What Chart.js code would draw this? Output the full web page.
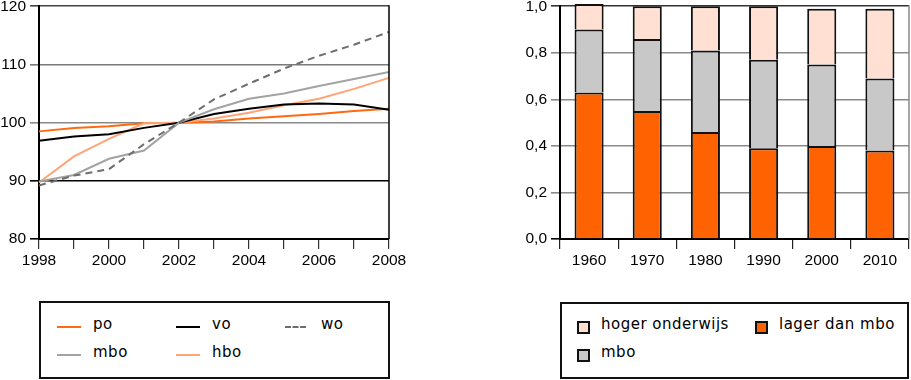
<!DOCTYPE html>
<html>
<head>
<meta charset="utf-8">
<script src="https://cdn.jsdelivr.net/npm/chart.js@4/dist/chart.umd.min.js"></script>
<style>
  html, body { margin:0; padding:0; background:#fff; }
  body { width:911px; height:380px; position:relative; overflow:hidden; font-family:"DejaVu Sans", sans-serif; }
  #c1 { position:absolute; left:0; top:-7px; }
  #c2 { position:absolute; left:520px; top:-7px; }
  .legend { position:absolute; border:2px solid #111; box-sizing:border-box; background:#fff; }
  .item { position:absolute; font-size:15px; letter-spacing:0.5px; color:#000; line-height:18px; }
  .sample { position:absolute; }
</style>
</head>
<body>
<canvas id="c1" width="420" height="277" style="width:420px;height:277px"></canvas>
<canvas id="c2" width="391" height="277" style="width:391px;height:277px"></canvas>
<div id="leg1" class="legend" style="left:39px;top:301px;width:351px;height:78px;"></div>
<div id="leg2" class="legend" style="left:560px;top:302px;width:349px;height:77px;"></div>
<script>
// ---- Data: left chart (index, 2002 = 100) ----
const years = ['1998','1999','2000','2001','2002','2003','2004','2005','2006','2007','2008'];
const po  = [98.5, 99.1, 99.4, 99.9, 100, 100.2, 100.7, 101.1, 101.5, 102.0, 102.4];
const vo  = [96.9, 97.6, 98.0, 99.1, 100, 101.5, 102.4, 103.1, 103.3, 103.1, 102.2];
const wo  = [89.2, 90.9, 92.0, 96.3, 100, 104.0, 106.7, 109.3, 111.5, 113.4, 115.6];
const mbo = [89.9, 91.0, 93.8, 95.2, 100, 102.3, 104.1, 105.0, 106.3, 107.5, 108.7];
const hbo = [89.7, 94.2, 97.2, 99.9, 100, 100.7, 101.7, 103.0, 104.1, 105.8, 107.7];
const lineNames = ['po','vo','wo','mbo','hbo'];
const yTicksLeft = [80, 90, 100, 110, 120];

// ---- Data: right chart (shares) ----
const decades = ['1960','1970','1980','1990','2000','2010'];
const lagerDanMbo   = [0.63, 0.55, 0.46, 0.39, 0.40, 0.38];
const mboShare      = [0.27, 0.31, 0.35, 0.38, 0.35, 0.31];
const hogerOnderwijs= [0.11, 0.14, 0.19, 0.23, 0.24, 0.30];
const barNames = ['hoger onderwijs','lager dan mbo','mbo'];
const yTicksRight = [0, 0.2, 0.4, 0.6, 0.8, 1.0];

Chart.defaults.animation = false;
Chart.defaults.font.family = '"Liberation Sans", Arial, sans-serif';
Chart.defaults.font.size = 15.5;
Chart.defaults.color = '#000';

const rightEdge = (color, width) => ({
  id: 'rightEdge',
  afterDraw(chart) {
    const a = chart.chartArea, ctx = chart.ctx;
    ctx.save();
    ctx.strokeStyle = color; ctx.lineWidth = width;
    ctx.beginPath(); ctx.moveTo(a.right, a.top - 1); ctx.lineTo(a.right, a.bottom); ctx.stroke();
    ctx.restore();
  }
});

// ---- Left line chart ----
const lineStyles = {
  po:  {borderColor:'#ff6a10', borderWidth:2},
  vo:  {borderColor:'#000000', borderWidth:2},
  wo:  {borderColor:'#6e6e6e', borderWidth:2, borderDash:[7,5]},
  mbo: {borderColor:'#a3a3a3', borderWidth:2},
  hbo: {borderColor:'#ffa477', borderWidth:2}
};
const lineData = {po, vo, wo, mbo, hbo};
const drawOrder = ['wo','mbo','vo','hbo','po'];

new Chart(document.getElementById('c1'), {
  type: 'line',
  data: {
    labels: years,
    datasets: drawOrder.map(n => Object.assign({
      label: n, data: lineData[n], pointRadius: 0, tension: 0, fill: false
    }, lineStyles[n]))
  },
  options: {
    responsive: false,
    layout: { padding: { top: 0, right: 31, left: 0, bottom: 0 } },
    plugins: { legend: { display: false }, tooltip: { enabled: false } },
    scales: {
      x: {
        grid: { drawOnChartArea: false, drawTicks: true, tickLength: 10, color: '#333', lineWidth: 1.2 },
        border: { color: '#000', width: 2 },
        ticks: { autoSkip: false, maxRotation: 0, padding: 2,
          callback: function(v, i) { const y = +years[i]; return y % 2 === 0 ? years[i] : ''; } },
        afterFit(s) { s.height = 31; }
      },
      y: {
        min: 80, max: 120,
        afterBuildTicks(s) { s.ticks = yTicksLeft.map(v => ({value: v})); },
        grid: {
          tickLength: 9,
          lineWidth: 1.6,
          color: ctx => ({80:'#000',90:'#000',100:'#8a8a8a',110:'#7a7a7a',120:'#444'})[ctx.tick.value] || '#888'
        },
        border: { color: '#000', width: 2 },
        ticks: { padding: 4, callback: v => String(v) },
        afterFit(s) { s.width = 39; }
      }
    }
  },
  plugins: [rightEdge('#000', 1.5)]
});

// ---- Right stacked bar chart ----
const barStyles = {
  'lager dan mbo':   '#ff6200',
  'mbo':             '#c8c8c8',
  'hoger onderwijs': '#ffe0d2'
};
const barData = {'lager dan mbo': lagerDanMbo, 'mbo': mboShare, 'hoger onderwijs': hogerOnderwijs};
const stackOrder = ['lager dan mbo','mbo','hoger onderwijs'];

new Chart(document.getElementById('c2'), {
  type: 'bar',
  data: {
    labels: decades,
    datasets: stackOrder.map(n => ({
      label: n, data: barData[n], backgroundColor: barStyles[n],
      borderColor: '#111', borderWidth: 2, borderSkipped: 'start',
      categoryPercentage: 0.5, barPercentage: 1.0, clip: false
    }))
  },
  options: {
    responsive: false,
    layout: { padding: { top: 0, right: 2, left: 0, bottom: 0 } },
    plugins: { legend: { display: false }, tooltip: { enabled: false } },
    scales: {
      x: {
        stacked: true,
        grid: { drawOnChartArea: false, drawTicks: true, tickLength: 10, color: '#222', lineWidth: 1.2, offset: true },
        border: { color: '#000', width: 2 },
        ticks: { maxRotation: 0, padding: 2 },
        afterFit(s) { s.height = 31; }
      },
      y: {
        stacked: true, min: 0, max: 1.0,
        afterBuildTicks(s) { s.ticks = yTicksRight.map(v => ({value: v})); },
        grid: {
          tickLength: 9, lineWidth: 1.6,
          color: ctx => ctx.tick.value === 0 ? '#000' : (ctx.tick.value === 1 ? '#333' : '#8a8a8a')
        },
        border: { color: '#000', width: 2 },
        ticks: { padding: 4, callback: v => v.toFixed(1).replace('.', ',') },
        afterFit(s) { s.width = 40; }
      }
    }
  },
  plugins: [rightEdge('#888', 1.5)]
});

// ---- HTML legends ----
const leg1 = document.getElementById('leg1');
const leg1Pos = {
  po:  {x:16,  y:24}, vo: {x:135, y:24}, wo: {x:244, y:24},
  mbo: {x:16,  y:52}, hbo:{x:135, y:52}
};
lineNames.forEach(n => {
  const p = leg1Pos[n], st = lineStyles[n];
  const s = document.createElement('div');
  s.className = 'sample';
  const w = n === 'wo' ? 21 : 24;
  s.style.cssText = `left:${p.x}px;top:${p.y - 1}px;width:${w}px;height:0;border-top:2px ${st.borderDash ? 'dashed' : 'solid'} ${st.borderColor};`;
  leg1.appendChild(s);
  const t = document.createElement('div');
  t.className = 'item';
  t.textContent = n;
  t.style.left = (p.x + 36) + 'px';
  t.style.top = (p.y - 12) + 'px';
  leg1.appendChild(t);
});

const leg2 = document.getElementById('leg2');
const leg2Pos = {
  'hoger onderwijs': {x:15,  y:23},
  'lager dan mbo':   {x:193, y:23},
  'mbo':             {x:15,  y:51}
};
barNames.forEach(n => {
  const p = leg2Pos[n];
  const s = document.createElement('div');
  s.className = 'sample';
  s.style.cssText = `left:${p.x}px;top:${p.y - 6}px;width:9px;height:9px;border:2px solid #111;background:${barStyles[n]};`;
  leg2.appendChild(s);
  const t = document.createElement('div');
  t.className = 'item';
  t.textContent = n;
  t.style.left = (p.x + 24) + 'px';
  t.style.top = (p.y - 12) + 'px';
  leg2.appendChild(t);
});
</script>
</body>
</html>
